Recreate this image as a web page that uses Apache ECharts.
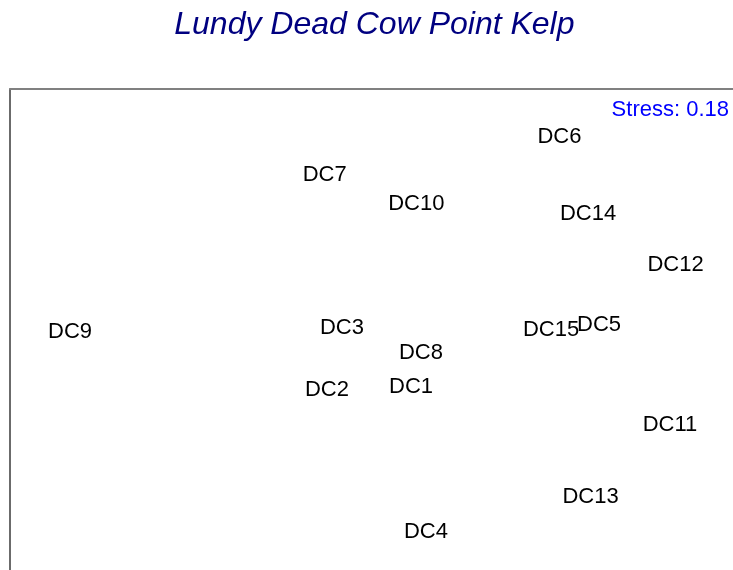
<!DOCTYPE html>
<html>
<head>
<meta charset="utf-8">
<script src="https://cdn.jsdelivr.net/npm/echarts@6/dist/echarts.min.js"></script>
<style>
html,body{margin:0;padding:0;background:#fff;}
#chart{width:733px;height:570px;}
</style>
</head>
<body>
<div id="chart"></div>
<script>
// Sample names and their 2-D MDS coordinates
const samples = ['DC1','DC2','DC3','DC4','DC5','DC6','DC7','DC8','DC9','DC10','DC11','DC12','DC13','DC14','DC15'];
const mdsX = [0.197,-0.222,-0.147,0.271,1.133,0.936,-0.233,0.246,-1.501,0.223,1.486,1.514,1.091,1.078,0.894];
const mdsY = [-0.277,-0.293,0.017,-0.998,0.032,0.971,0.779,-0.105,-0.002,0.638,-0.468,0.333,-0.826,0.588,0.007];
const titleText = 'Lundy Dead Cow Point Kelp';
const stressText = 'Stress: 0.18';

const chart = echarts.init(document.getElementById('chart'), null, {renderer:'canvas'});
const pts = samples.map((n,i)=>({name:n, value:[mdsX[i], mdsY[i]]}));
const font = "'Liberation Sans', Arial, sans-serif";

chart.setOption({
  animation:false,
  backgroundColor:'#ffffff',
  grid:{left:10, top:89, width:723, height:481, containLabel:false},
  xAxis:{
    type:'value', position:'top', min:-1.8, max:1.8,
    axisLine:{show:true, onZero:false, lineStyle:{color:'#808080', width:2}},
    axisTick:{show:false}, axisLabel:{show:false}, splitLine:{show:false}
  },
  yAxis:{
    type:'value', position:'left', min:-1.2, max:1.2,
    axisLine:{show:true, onZero:false, lineStyle:{color:'#3a3a3a', width:1.5}},
    axisTick:{show:false}, axisLabel:{show:false}, splitLine:{show:false}
  },
  graphic:[
    {type:'text', x:374.4, y:25, style:{text:titleText, fill:'#000080', font:"italic 32px 'Liberation Sans', Arial, sans-serif", align:'center', verticalAlign:'middle'}},
    {type:'text', x:729, y:109.5, style:{text:stressText, fill:'#0000ff', font:"22px 'Liberation Sans', Arial, sans-serif", align:'right', verticalAlign:'middle'}}
  ],
  series:[{
    type:'scatter',
    data:pts,
    symbolSize:1,
    itemStyle:{color:'rgba(0,0,0,0)', opacity:1},
    label:{show:true, formatter:'{b}', position:'inside', offset:[0,2], color:'#000000', opacity:1, fontSize:22, fontFamily:font},
    emphasis:{disabled:true}
  }]
});
</script>
</body>
</html>
